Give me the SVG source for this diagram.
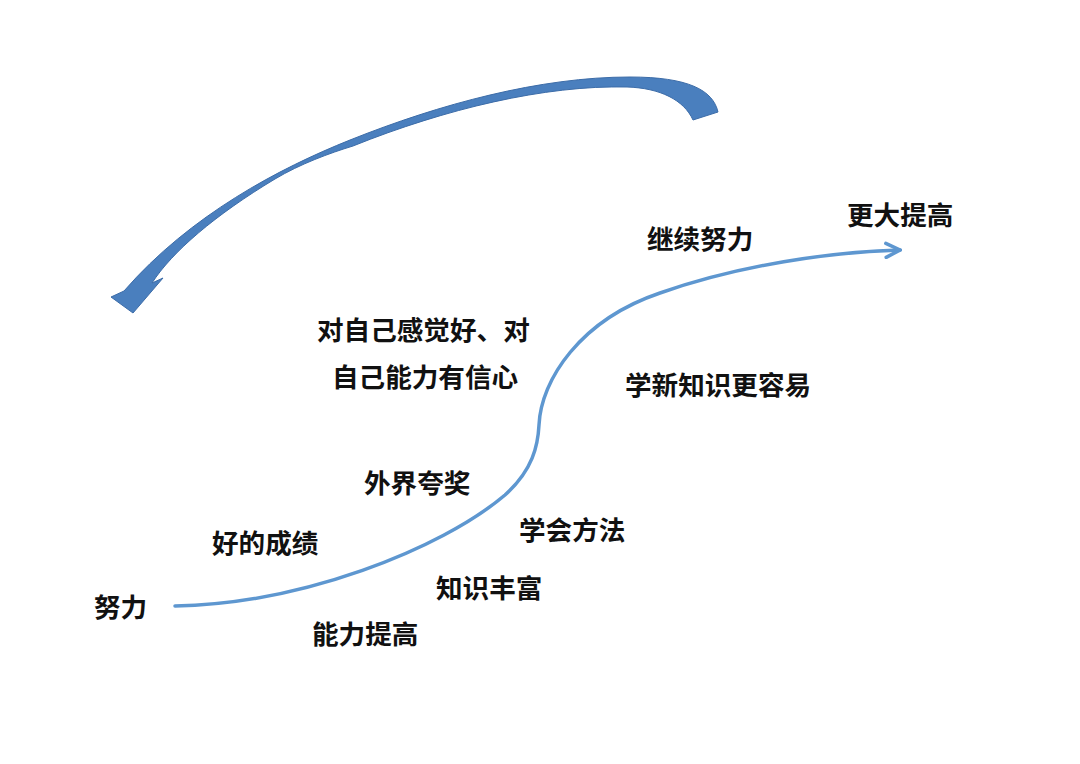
<svg xmlns="http://www.w3.org/2000/svg" width="1080" height="764" viewBox="0 0 1080 764">
<style>
.lbl{font-family:"Noto Sans CJK SC","Noto Sans CJK JP",sans-serif;font-size:26.6px;font-weight:bold;fill:#111}
.big{fill:#4a7fbe;stroke:#3c6ca8;stroke-width:1;stroke-linejoin:miter}
.flow{fill:none;stroke:#5e97d0;stroke-width:3.5;stroke-linecap:round}
</style>
<defs>
<marker id="chev" markerUnits="userSpaceOnUse" markerWidth="18" markerHeight="18" viewBox="0 0 18 18" refX="16" refY="9" orient="auto">
<path d="M2,2 L16,9 L2,16" fill="none" stroke="#5e97d0" stroke-width="3.5" stroke-linecap="round" stroke-linejoin="miter"/>
</marker>
</defs>
<rect width="1080" height="764" fill="#ffffff"/>
<g id="connectors">
<path id="feedback-arrow" class="big" d="M718,112 C713,90 688,77 630,77 C540,77 440,104 350,140 C280,168 190,215 124,291 L111,297 L133,313 L163,278 L152,283 C172,252 215,215 275,179 C300,164 330,153 353,146 C445,109 545,85 627,87 C660,88 684,100 693,120 Z"/>
<path id="progress-curve" class="flow" marker-end="url(#chev)" d="M175,606 C300,604 440,550 505,495 C533,470 538,445 539,425 C541,380 580,320 660,293 C740,265 830,252 900,250"/>
</g>
<g id="n-nuli"><text class="lbl" x="94" y="617">努力</text></g>
<g id="n-nengli"><text class="lbl" x="312" y="644">能力提高</text></g>
<g id="n-haochengji"><text class="lbl" x="212" y="553">好的成绩</text></g>
<g id="n-zhishi"><text class="lbl" x="436" y="598">知识丰富</text></g>
<g id="n-waijie"><text class="lbl" x="364" y="493">外界夸奖</text></g>
<g id="n-xuehui"><text class="lbl" x="519" y="540">学会方法</text></g>
<g id="n-ziji"><text class="lbl" x="317" y="340">对自己感觉好、对</text><text class="lbl" x="332" y="387">自己能力有信心</text></g>
<g id="n-xuexin"><text class="lbl" x="625" y="395">学新知识更容易</text></g>
<g id="n-jixu"><text class="lbl" x="647" y="249">继续努力</text></g>
<g id="n-gengda"><text class="lbl" x="847" y="225">更大提高</text></g>
</svg>
